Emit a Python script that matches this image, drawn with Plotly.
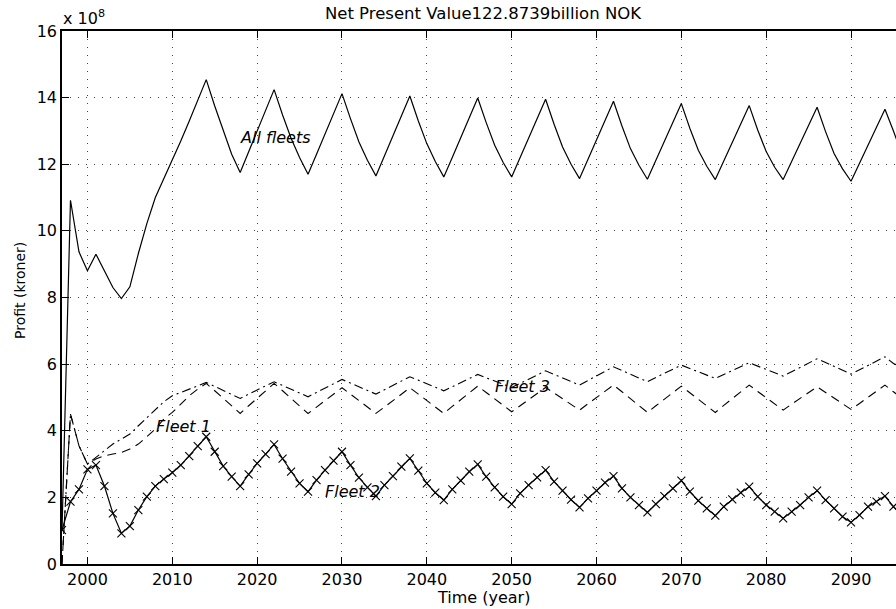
import plotly.graph_objects as go

years = list(range(1997, 2097))

all_fleets = [
    1.0, 10.92, 9.37, 8.8, 9.3, 8.8, 8.3, 7.97, 8.32, 9.32,
    10.22, 11.0, 11.55, 12.1, 12.7, 13.3, 13.92, 14.54, 13.75, 13.0,
    12.3, 11.75, 12.37, 12.99, 13.62, 14.24, 13.48, 12.78, 12.2, 11.7,
    12.3, 12.9, 13.5, 14.12, 13.37, 12.67, 12.12, 11.65, 12.25, 12.85,
    13.45, 14.05, 13.3, 12.62, 12.08, 11.62, 12.2, 12.8, 13.4, 13.99,
    13.25, 12.57, 12.05, 11.62, 12.2, 12.78, 13.37, 13.95, 13.2, 12.52,
    12.0, 11.57, 12.15, 12.73, 13.31, 13.89, 13.15, 12.47, 11.97, 11.55,
    12.12, 12.69, 13.26, 13.82, 13.08, 12.42, 11.94, 11.54, 12.1, 12.65,
    13.21, 13.76, 13.03, 12.38, 11.91, 11.54, 12.08, 12.62, 13.17, 13.71,
    12.98, 12.32, 11.86, 11.49, 12.03, 12.57, 13.11, 13.65, 13.0, 12.3,
]

fleet2 = [
    1.02, 1.87, 2.24, 2.84, 2.97, 2.34, 1.52, 0.92, 1.14, 1.62,
    2.02, 2.34, 2.55, 2.74, 2.97, 3.24, 3.54, 3.82, 3.37, 2.94,
    2.62, 2.34, 2.69, 3.02, 3.30, 3.59, 3.16, 2.77, 2.42, 2.17,
    2.52, 2.82, 3.10, 3.37, 2.97, 2.59, 2.30, 2.04, 2.37, 2.64,
    2.92, 3.17, 2.80, 2.42, 2.14, 1.92, 2.24, 2.50, 2.77, 2.99,
    2.62, 2.30, 2.02, 1.80, 2.12, 2.37, 2.60, 2.82, 2.47, 2.20,
    1.93, 1.70, 1.97, 2.20, 2.44, 2.64, 2.27, 2.00, 1.77, 1.55,
    1.80, 2.04, 2.27, 2.50, 2.17, 1.90, 1.67, 1.45, 1.72, 1.94,
    2.14, 2.32, 2.02, 1.77, 1.57, 1.37, 1.57, 1.77, 2.00, 2.20,
    1.92, 1.67, 1.42, 1.25, 1.47, 1.72, 1.87, 2.04, 1.72, 1.45,
]

fleet3 = [
    0.0, 4.5, 3.55, 3.0, 3.2, 3.4, 3.6, 3.75, 3.9, 4.15,
    4.4, 4.65, 4.87, 5.05, 5.15, 5.25, 5.35, 5.45, 5.33, 5.21,
    5.09, 4.97, 5.1, 5.22, 5.35, 5.47, 5.36, 5.25, 5.13, 5.02,
    5.15, 5.28, 5.41, 5.54, 5.43, 5.32, 5.21, 5.1, 5.23, 5.36,
    5.49, 5.62, 5.52, 5.41, 5.31, 5.2, 5.32, 5.44, 5.57, 5.69,
    5.59, 5.5, 5.4, 5.3, 5.42, 5.55, 5.67, 5.8, 5.69, 5.59,
    5.48, 5.37, 5.51, 5.65, 5.78, 5.92, 5.81, 5.7, 5.58, 5.47,
    5.6, 5.72, 5.85, 5.97, 5.87, 5.77, 5.67, 5.57, 5.69, 5.81,
    5.92, 6.04, 5.94, 5.84, 5.74, 5.64, 5.77, 5.9, 6.03, 6.16,
    6.05, 5.93, 5.82, 5.7, 5.83, 5.96, 6.09, 6.22, 6.02, 5.9,
]

fleet1 = [
    0.0, 4.5, 3.55, 3.0, 3.15, 3.25, 3.3, 3.35, 3.45, 3.6,
    3.82, 4.05, 4.35, 4.55, 4.8, 5.05, 5.25, 5.42, 5.2, 4.97,
    4.75, 4.52, 4.75, 4.97, 5.2, 5.42, 5.2, 4.97, 4.75, 4.52,
    4.71, 4.91, 5.1, 5.29, 5.1, 4.9, 4.71, 4.52, 4.71, 4.91,
    5.1, 5.29, 5.1, 4.9, 4.71, 4.52, 4.73, 4.93, 5.14, 5.34,
    5.15, 4.95, 4.76, 4.57, 4.75, 4.94, 5.12, 5.3, 5.13, 4.96,
    4.79, 4.62, 4.81, 5.0, 5.18, 5.37, 5.17, 4.96, 4.75, 4.55,
    4.75, 4.95, 5.14, 5.34, 5.14, 4.94, 4.75, 4.55, 4.76, 4.96,
    5.17, 5.37, 5.18, 5.0, 4.81, 4.62, 4.8, 4.97, 5.15, 5.32,
    5.15, 4.98, 4.81, 4.64, 4.82, 5.0, 5.19, 5.37, 5.17, 4.97,
]

x_ticks = list(range(2000, 2100, 10))
y_ticks = list(range(0, 18, 2))

labels = [
    ("All fleets", 2017.7, 12.81),
    ("Fleet 1", 2007.85, 4.14),
    ("Fleet 2", 2027.8, 2.19),
    ("Fleet 3", 2047.8, 5.32),
]

FONT = "DejaVu Sans"
W, H = 896, 609
L, R, T, B = 62, 0, 31, 45

fig = go.Figure()

fig.add_trace(go.Scatter(x=years, y=all_fleets, mode="lines",
                         line=dict(color="black", width=1.2), name="All fleets"))
fig.add_trace(go.Scatter(x=years, y=fleet1, mode="lines",
                         line=dict(color="black", width=1.1, dash="9px,6px"), name="Fleet 1"))
fig.add_trace(go.Scatter(x=years, y=fleet3, mode="lines",
                         line=dict(color="black", width=1.1, dash="9px,4px,2px,4px"), name="Fleet 3"))
fig.add_trace(go.Scatter(x=years, y=fleet2, mode="lines+markers",
                         line=dict(color="black", width=1.2),
                         marker=dict(symbol="x-thin", size=8,
                                     line=dict(color="black", width=1.1)),
                         name="Fleet 2"))

annotations = []
for text, xv, yv in labels:
    annotations.append(dict(x=xv, y=yv, xref="x", yref="y", text=f"<i>{text}</i>",
                            showarrow=False, xanchor="left", yanchor="middle",
                            font=dict(family=FONT, size=16, color="black")))

pw = W - L - R
ph = H - T - B

def px_x(px):
    return (px - L) / pw

def px_y(py):
    return (H - B - py) / ph

annotations.append(dict(x=px_x(483), y=px_y(597), xref="paper", yref="paper",
                        text="Time (year)", showarrow=False, xanchor="center",
                        yanchor="middle", font=dict(family=FONT, size=16, color="black")))
annotations.append(dict(x=px_x(20), y=px_y(291), xref="paper", yref="paper",
                        text="Profit (kroner)", showarrow=False, textangle=-90,
                        xanchor="center", yanchor="middle",
                        font=dict(family=FONT, size=14, color="black")))
annotations.append(dict(x=px_x(61), y=px_y(18), xref="paper", yref="paper",
                        text="x 10<sup>8</sup>", showarrow=False, xanchor="left",
                        yanchor="middle", font=dict(family=FONT, size=16, color="black")))

grid_dash = "1px,7px"

fig.update_layout(
    width=W, height=H,
    margin=dict(l=L, r=R, t=T, b=B, autoexpand=False),
    paper_bgcolor="white", plot_bgcolor="white",
    showlegend=False,
    title=dict(text="Net Present Value122.8739billion NOK", x=483 / W, xref="container",
               xanchor="center", y=1 - 13 / H, yref="container", yanchor="middle",
               font=dict(family=FONT, size=16.5, color="black")),
    font=dict(family=FONT, size=16, color="black"),
    annotations=annotations,
    xaxis=dict(range=[1997, 2095.3], tickvals=x_ticks, ticks="inside", ticklen=7,
               tickcolor="black", showline=True, linecolor="black", linewidth=1.5,
               mirror="ticks", showgrid=True, gridcolor="#444", griddash=grid_dash,
               gridwidth=1, zeroline=False, tickfont=dict(family=FONT, size=16),
               ticklabelstandoff=0),
    yaxis=dict(range=[0, 16], tickvals=y_ticks, ticks="inside", ticklen=7,
               tickcolor="black", showline=True, linecolor="black", linewidth=1.5,
               mirror=False, showgrid=True, gridcolor="#444", griddash=grid_dash,
               gridwidth=1, zeroline=False, tickfont=dict(family=FONT, size=16),
               ticklabelstandoff=0),
    yaxis2=dict(range=[0, 16], tickvals=y_ticks, overlaying="y", side="right",
                ticks="inside", ticklen=4, tickcolor="black", showline=False,
                showgrid=False, zeroline=False, showticklabels=False),
)

fig.write_html(
    "out.html",
    config={"displayModeBar": False},
    post_script="document.body.style.margin='0px';document.body.style.overflow='hidden';",
)
